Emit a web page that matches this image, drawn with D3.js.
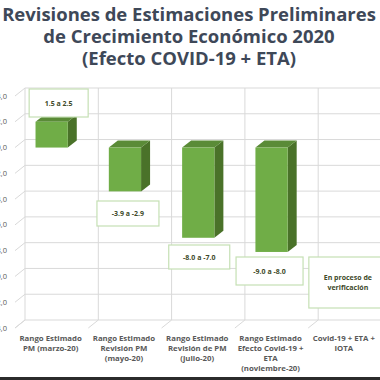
<!DOCTYPE html>
<html>
<head>
<meta charset="utf-8">
<script src="https://cdn.jsdelivr.net/npm/d3@7"></script>
<style>
  body { margin: 0; background: #fff; }
  text { font-family: "Open Sans", "DejaVu Sans", sans-serif; }
</style>
</head>
<body>
<div id="chart"></div>
<script>
const titleLines = ["Revisiones de Estimaciones Preliminares", "de Crecimiento Económico 2020", "(Efecto COVID-19 + ETA)"];
const categories = [
    ["Rango Estimado", "PM (marzo-20)"],
    ["Rango Estimado", "Revisión PM", "(mayo-20)"],
    ["Rango Estimado", "Revisión de PM", "(julio-20)"],
    ["Rango Estimado", "Efecto Covid-19 +", "ETA", "(noviembre-20)"],
    ["Covid-19 + ETA +", "IOTA"]
];
// bar heights as drawn (axis units), null = no bar
const barValues = [2.0, -3.4, -7.0, -8.1, null];
// data label texts
const rangeLabels = [["1.5 a 2.5"], ["-3.9 a -2.9"], ["-8.0 a -7.0"], ["-9.0 a -8.0"], ["En proceso de", "verificación"]];
const yDomain = [-14, 4];

const width = 380, height = 380;
const depth = {x: 10, y: 8};      // floor/wall depth
const barDepth = {x: 9, y: 7};

const svg = d3.select("#chart").append("svg")
    .attr("width", width)
    .attr("height", height);

// title
const title = svg.append("text")
    .attr("text-anchor", "middle")
    .style("font-weight", "bold")
    .style("font-size", "17px")
    .attr("fill", "#3e4858");
title.selectAll("tspan")
    .data(titleLines)
    .enter()
    .append("tspan")
    .attr("x", 189)
    .attr("y", (d, i) => 21 + i * 22)
    .text(d => d);
// fit first line to the picture width
const w0 = title.select("tspan").node().getComputedTextLength();
title.style("font-size", (17 * 374 / w0) + "px");

// scales (back wall coordinates)
const x = d3.scaleBand()
    .domain(d3.range(categories.length))
    .range([25, 25 + 5 * 73.3])
    .paddingInner(0).paddingOuter(0);
const y = d3.scaleLinear()
    .domain(yDomain)
    .range([320, 88]);
const fmt = d3.formatLocale({decimal: ",", thousands: ".", grouping: [3], currency: ["", ""], minus: "-"}).format(".1f");

const grid = svg.append("g").attr("stroke", "#d9d9d9").attr("stroke-width", 1).attr("fill", "none");
const ticks = y.ticks(10);

// back wall horizontals + left wall diagonals
ticks.forEach(t => {
    grid.append("line")
        .attr("x1", x.range()[0]).attr("x2", width)
        .attr("y1", y(t)).attr("y2", y(t));
    grid.append("line")
        .attr("x1", x.range()[0] - depth.x).attr("y1", y(t) + depth.y)
        .attr("x2", x.range()[0]).attr("y2", y(t));
});
// back wall verticals + floor diagonals
d3.range(categories.length + 1).forEach(i => {
    const xv = x.range()[0] + i * x.bandwidth();
    grid.append("line")
        .attr("x1", xv).attr("x2", xv)
        .attr("y1", y(yDomain[1])).attr("y2", y(yDomain[0]));
    grid.append("line")
        .attr("x1", xv - depth.x).attr("y1", y(yDomain[0]) + depth.y)
        .attr("x2", xv).attr("y2", y(yDomain[0]));
});

// y axis labels (cut at the left edge, as in the screenshot)
svg.append("g").selectAll("text")
    .data(ticks)
    .enter()
    .append("text")
    .attr("x", 7)
    .attr("y", d => y(d) + depth.y + 2.5)
    .attr("text-anchor", "end")
    .style("font-size", "7.5px")
    .attr("fill", "#595959")
    .text(d => fmt(d));

// bars, front plane = back shifted by depth
const bw = x.bandwidth() * 0.44;
const bars = svg.append("g");
barValues.forEach((v, i) => {
    if (v === null) return;
    const x0 = x(i) - depth.x + (x.bandwidth() - bw) / 2;
    const x1 = x0 + bw;
    const yTop = y(Math.max(0, v)) + depth.y;
    const yBot = y(Math.min(0, v)) + depth.y;
    const dx = barDepth.x, dy = barDepth.y;
    bars.append("path")
        .attr("d", `M${x1},${yTop}L${x1 + dx},${yTop - dy}L${x1 + dx},${yBot - dy}L${x1},${yBot}Z`)
        .attr("fill", "#4a7229");
    bars.append("path")
        .attr("d", `M${x0},${yTop}L${x0 + dx},${yTop - dy}L${x1 + dx},${yTop - dy}L${x1},${yTop}Z`)
        .attr("fill", "#5a8b37");
    bars.append("rect")
        .attr("x", x0).attr("y", yTop)
        .attr("width", bw).attr("height", yBot - yTop)
        .attr("fill", "#70ad47");
});

// data label boxes (Excel places them by hand)
const labelBox = [
    {dx: 7, top: 89, w: 59, h: 28},
    {dx: 3, top: 201, w: 62, h: 25},
    {dx: 1, top: 245, w: 61, h: 24},
    {dx: -2, top: 257, w: 67, h: 28},
    {dx: 3, top: 257, w: 78, h: 51}
];
const labels = svg.append("g");
rangeLabels.forEach((lines, i) => {
    const b = labelBox[i];
    const cx = x(i) - depth.x + x.bandwidth() / 2 + b.dx;
    labels.append("rect")
        .attr("x", cx - b.w / 2).attr("y", b.top)
        .attr("width", b.w).attr("height", b.h)
        .attr("fill", "#fff")
        .attr("stroke", "#c5e0b4")
        .attr("stroke-width", 1.2);
    const t = labels.append("text")
        .attr("text-anchor", "middle")
        .style("font-size", "7px")
        .style("font-weight", "bold")
        .attr("fill", "#404a2a");
    t.selectAll("tspan")
        .data(lines)
        .enter()
        .append("tspan")
        .attr("x", cx)
        .attr("y", (d, j) => b.top + b.h / 2 + 2.5 + (j - (lines.length - 1) / 2) * 10)
        .text(d => d);
});

// category labels
svg.append("g").selectAll("text")
    .data(categories)
    .enter()
    .append("text")
    .attr("text-anchor", "middle")
    .style("font-size", "7.8px")
    .style("font-weight", "bold")
    .attr("fill", "#595959")
    .each(function (lines, i) {
        d3.select(this).selectAll("tspan")
            .data(lines)
            .enter()
            .append("tspan")
            .attr("x", x(i) - depth.x + x.bandwidth() / 2 - 1)
            .attr("y", (d, j) => 341 + j * 10)
            .text(d => d);
    });

// dark strip at the bottom of the screenshot
svg.append("rect")
    .attr("x", 0).attr("y", 377)
    .attr("width", width).attr("height", 3)
    .attr("fill", "#2b2b2b");
</script>
</body>
</html>
